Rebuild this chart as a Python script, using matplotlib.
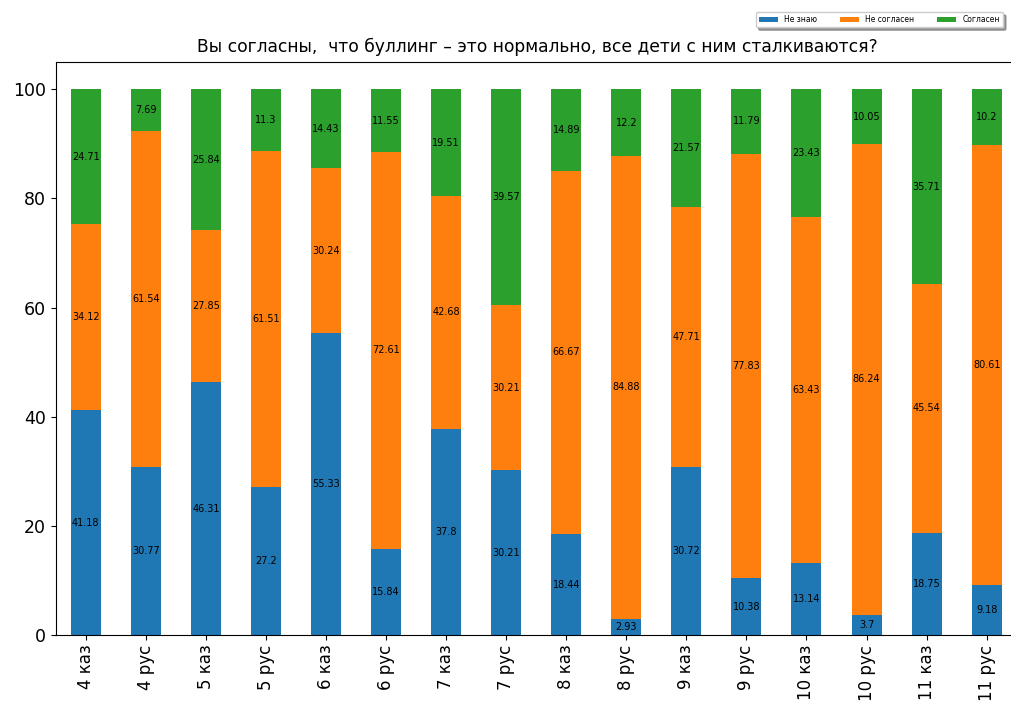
import numpy as np
import matplotlib
matplotlib.use('Agg')
from matplotlib import pyplot as plt

categories = ['4 каз', '4 рус', '5 каз', '5 рус', '6 каз', '6 рус', '7 каз', '7 рус',
              '8 каз', '8 рус', '9 каз', '9 рус', '10 каз', '10 рус', '11 каз', '11 рус']
dont_know = [41.18, 30.77, 46.31, 27.2, 55.33, 15.84, 37.8, 30.21,
             18.44, 2.93, 30.72, 10.38, 13.14, 3.7, 18.75, 9.18]
disagree = [34.12, 61.54, 27.85, 61.51, 30.24, 72.61, 42.68, 30.21,
            66.67, 84.88, 47.71, 77.83, 63.43, 86.24, 45.54, 80.61]
agree = [24.71, 7.69, 25.84, 11.3, 14.43, 11.55, 19.51, 39.57,
         14.89, 12.2, 21.57, 11.79, 23.43, 10.05, 35.71, 10.2]
series_names = ['Не знаю', 'Не согласен', 'Согласен']
title = 'Вы согласны,  что буллинг – это нормально, все дети с ним сталкиваются?'

fig = plt.figure(figsize=(10.12, 7.04), dpi=100)
# axes run past the right edge of the picture, as in the cropped original
ax = fig.add_axes([55.7 / 1012, 69 / 704, 991 / 1012, 573 / 704])

x = np.arange(len(categories))
bottom = np.zeros(len(categories))
colors = ['#1f77b4', '#ff7f0e', '#2ca02c']
for name, vals, col in zip(series_names, [dont_know, disagree, agree], colors):
    bars = ax.bar(x, vals, 0.5, bottom=bottom, color=col, label=name)
    ax.bar_label(bars, labels=[f'{v:g}' for v in vals], label_type='center', fontsize=7)
    bottom += np.array(vals)

ax.set_xlim(-0.5, 16)
ax.set_ylim(0, 105)
ax.set_xticks(x)
ax.set_xticklabels(categories, rotation=90, fontsize=12)
ax.tick_params(axis='y', labelsize=12.5)
# title centred over the full (uncropped) axes width
fig.text(537 / 1012, 1 - 47 / 704, title, fontsize=12.3, ha='center', va='center')

fig.legend(loc='upper right', bbox_to_anchor=(0.995, 0.988), ncol=3, fontsize=5.5,
           shadow=True, handlelength=2.5, columnspacing=3)

fig.savefig('out.png', dpi=100)
